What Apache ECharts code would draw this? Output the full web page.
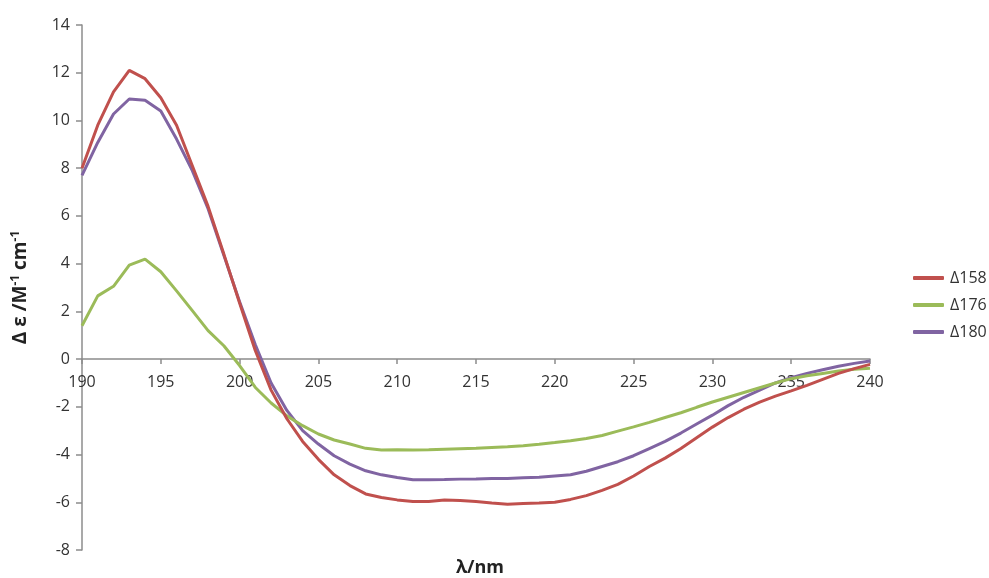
<!DOCTYPE html>
<html>
<head>
<meta charset="utf-8">
<script src="https://cdn.jsdelivr.net/npm/echarts@6/dist/echarts.min.js"></script>
<style>html,body{margin:0;padding:0;background:#fff}#c{width:989px;height:578px}</style>
</head>
<body>
<div id="c"></div>
<script>
const wavelengths = [190,191,192,193,194,195,196,197,198,199,200,201,202,203,204,205,206,207,208,209,210,211,212,213,214,215,216,217,218,219,220,221,222,223,224,225,226,227,228,229,230,231,232,233,234,235,236,237,238,239,240];
const d158 = [8.0,9.8,11.2,12.1,11.75,10.95,9.8,8.1,6.4,4.4,2.35,0.35,-1.3,-2.5,-3.45,-4.2,-4.85,-5.3,-5.65,-5.8,-5.9,-5.97,-5.97,-5.9,-5.93,-5.97,-6.03,-6.08,-6.05,-6.03,-6.0,-5.88,-5.72,-5.5,-5.25,-4.9,-4.5,-4.15,-3.75,-3.3,-2.85,-2.45,-2.1,-1.8,-1.55,-1.33,-1.1,-0.85,-0.6,-0.4,-0.22];
const d176 = [1.4,2.65,3.05,3.94,4.19,3.66,2.86,2.03,1.19,0.56,-0.27,-1.19,-1.84,-2.38,-2.79,-3.14,-3.39,-3.56,-3.74,-3.81,-3.8,-3.81,-3.8,-3.78,-3.76,-3.74,-3.7,-3.67,-3.63,-3.57,-3.5,-3.42,-3.33,-3.2,-3.02,-2.84,-2.65,-2.45,-2.25,-2.02,-1.8,-1.6,-1.4,-1.2,-1.0,-0.82,-0.7,-0.6,-0.5,-0.43,-0.38];
const d180 = [7.7,9.08,10.27,10.9,10.85,10.4,9.22,7.9,6.3,4.35,2.4,0.6,-1.0,-2.15,-3.0,-3.56,-4.05,-4.4,-4.68,-4.85,-4.96,-5.06,-5.06,-5.05,-5.03,-5.02,-5.0,-5.0,-4.97,-4.95,-4.9,-4.85,-4.7,-4.5,-4.3,-4.05,-3.75,-3.45,-3.1,-2.72,-2.35,-1.95,-1.6,-1.3,-1.0,-0.78,-0.6,-0.45,-0.3,-0.18,-0.08];
const seriesNames = ['\u0394158','\u0394176','\u0394180'];
const colors = ['#C0504D','#9BBB59','#8064A2'];
const yTicks = {min:-8, max:14, interval:2};
const xTicks = {min:190, max:240, interval:5};

const pair = arr => wavelengths.map((w,i)=>[w,arr[i]]);
const chart = echarts.init(document.getElementById('c'), null, {renderer:'canvas'});
const font = 'Open Sans';
const G = {left:82,right:119,top:25,bottom:28};
const plotH = 578 - G.top - G.bottom;
// shift the x axis from the bottom edge up to y = 0
const zeroOffset = -plotH * (0 - yTicks.min) / (yTicks.max - yTicks.min);
chart.setOption({
  animation:false,
  color: colors,
  textStyle:{fontFamily:font},
  grid:Object.assign({containLabel:false},G),
  title:{text:'\u03bb/nm',left:475,top:554,textAlign:'center',
    textStyle:{fontFamily:font,fontWeight:'bold',fontSize:18,color:'#222'}},
  legend:{orient:'vertical',left:908,top:265,itemWidth:31,itemHeight:4,itemGap:11,
    icon:'roundRect',
    textStyle:{fontFamily:font,fontSize:16,color:'#333',padding:[0,0,0,1]},
    data:seriesNames},
  xAxis:{type:'value',min:xTicks.min,max:xTicks.max,interval:xTicks.interval,
    position:'bottom',offset:zeroOffset,
    axisLine:{onZero:false,lineStyle:{color:'#8c8c8c',width:1.5}},
    axisTick:{show:true,length:5,lineStyle:{color:'#8c8c8c',width:1.5}},
    axisLabel:{margin:15,fontSize:16,color:'#333',fontFamily:font},
    splitLine:{show:false}},
  yAxis:{type:'value',min:yTicks.min,max:yTicks.max,interval:yTicks.interval,
    name:'{a|\u0394 \u03b5 /M}{s|-1}{a| cm}{s|-1}',nameLocation:'middle',nameGap:50,nameRotate:90,
    nameTextStyle:{rich:{
      a:{fontFamily:font,fontWeight:'bold',fontSize:19,color:'#222',lineHeight:22},
      s:{fontFamily:font,fontWeight:'bold',fontSize:12,color:'#222',verticalAlign:'top',lineHeight:22}}},
    axisLine:{show:true,onZero:false,lineStyle:{color:'#8c8c8c',width:1.5}},
    axisTick:{show:true,length:6,lineStyle:{color:'#8c8c8c',width:1.5}},
    axisLabel:{margin:12,fontSize:16,color:'#333',fontFamily:font},
    splitLine:{show:false}},
  series:[d158,d176,d180].map((arr,i)=>({
    name:seriesNames[i],type:'line',data:pair(arr),showSymbol:false,symbol:'none',
    lineStyle:{width:3,color:colors[i]},itemStyle:{color:colors[i]},z:3-i
  }))
});
</script>
</body>
</html>
